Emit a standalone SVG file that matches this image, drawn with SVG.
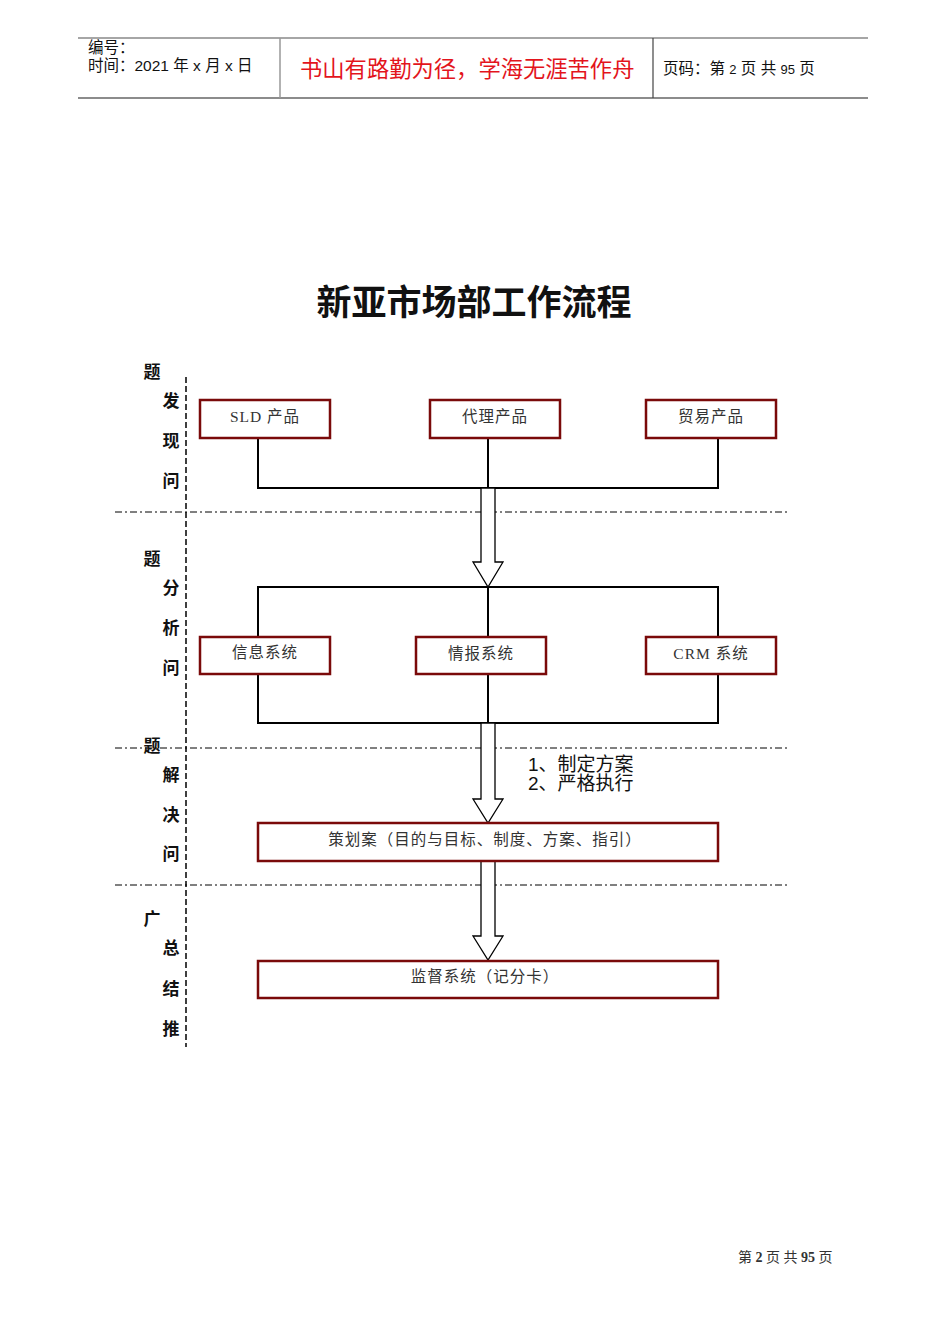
<svg xmlns="http://www.w3.org/2000/svg" width="950" height="1344" viewBox="0 0 950 1344">
<style>
.hdr{font-family:"Liberation Sans","Noto Sans CJK SC",sans-serif;font-size:15.5px;fill:#111}
.red{font-family:"Noto Sans CJK SC",sans-serif;font-size:22.3px;fill:#e3141c}
.title{font-family:"Noto Sans CJK SC",sans-serif;font-size:35px;font-weight:bold;fill:#111;text-anchor:middle}
.lbl{font-family:"Noto Sans CJK SC",sans-serif;font-size:17px;font-weight:bold;fill:#111;text-anchor:middle}
.box{fill:#fff;stroke:#7a0a0a;stroke-width:2.5}
.bt{font-family:"Liberation Serif","Noto Sans CJK SC",serif;font-size:15.5px;letter-spacing:1px;fill:#333;text-anchor:middle}
.conn{fill:none;stroke:#000;stroke-width:2}
.arrow{fill:#fff;stroke:#000;stroke-width:1.3}
.dd{stroke:#000;stroke-width:1;stroke-dasharray:7,3,2,3;fill:none}
.vd{stroke:#000;stroke-width:1.5;stroke-dasharray:6,3;fill:none}
.note{font-family:"Liberation Sans","Noto Sans CJK SC",sans-serif;font-size:19px;fill:#111}
.foot{font-family:"Liberation Serif","Noto Sans CJK SC",serif;font-size:14px;fill:#333}
</style>
<rect width="950" height="1344" fill="#fff"/>
<g id="header">
<line x1="78" y1="38" x2="868" y2="38" stroke="#888" stroke-width="1.5"/>
<line x1="78" y1="98" x2="868" y2="98" stroke="#666" stroke-width="1.5"/>
<line x1="280" y1="38" x2="280" y2="98" stroke="#999" stroke-width="1.5"/>
<line x1="653" y1="38" x2="653" y2="98" stroke="#444" stroke-width="1.2"/>
<text class="hdr" x="88" y="53">编号：</text>
<text class="hdr" x="88" y="71">时间：2021 年 x 月 x 日</text>
<text class="red" x="300" y="77">书山有路勤为径，学海无涯苦作舟</text>
<text class="hdr" x="663" y="74">页码：第 <tspan font-size="13">2</tspan> 页 共 <tspan font-size="13">95</tspan> 页</text>
</g>
<text class="title" x="474" y="315">新亚市场部工作流程</text>
<g id="lanes">
<line class="vd" x1="186" y1="377" x2="186" y2="1047"/>
<line class="dd" x1="115" y1="512" x2="790" y2="512"/>
<line class="dd" x1="115" y1="748" x2="790" y2="748"/>
<line class="dd" x1="115" y1="885" x2="790" y2="885"/>
</g>
<g id="lane-labels">
<text class="lbl" x="152" y="378">题</text>
<text class="lbl" x="171" y="407">发</text>
<text class="lbl" x="171" y="447">现</text>
<text class="lbl" x="171" y="487">问</text>
<text class="lbl" x="152" y="565">题</text>
<text class="lbl" x="171" y="594">分</text>
<text class="lbl" x="171" y="634">析</text>
<text class="lbl" x="171" y="674">问</text>
<text class="lbl" x="152" y="752">题</text>
<text class="lbl" x="171" y="781">解</text>
<text class="lbl" x="171" y="821">决</text>
<text class="lbl" x="171" y="860">问</text>
<text class="lbl" x="152" y="925">广</text>
<text class="lbl" x="171" y="954">总</text>
<text class="lbl" x="171" y="995">结</text>
<text class="lbl" x="171" y="1035">推</text>
</g>
<g id="connectors">
<path class="conn" d="M258 438 V488 H718 V438 M488 438 V488"/>
<path class="conn" d="M258 637 V587 H718 V637 M258 674 V723 H718 V674 M488 587 V723"/>
<path class="arrow" d="M481 488 H495 V562 H503 L488 587 L473 562 H481 Z"/>
<path class="arrow" d="M481 723 H495 V799 H503 L488 823 L473 799 H481 Z"/>
<path class="arrow" d="M481 861 H495 V936 H503 L488 960 L473 936 H481 Z"/>
<text class="note" x="528" y="771">1、制定方案</text>
<text class="note" x="528" y="790">2、严格执行</text>
</g>
<g id="n-sld"><rect class="box" x="200" y="400" width="130" height="38"/><text class="bt" x="265" y="422">SLD 产品</text></g>
<g id="n-agent"><rect class="box" x="430" y="400" width="130" height="38"/><text class="bt" x="495" y="422">代理产品</text></g>
<g id="n-trade"><rect class="box" x="646" y="400" width="130" height="38"/><text class="bt" x="711" y="422">贸易产品</text></g>
<g id="n-info"><rect class="box" x="200" y="637" width="130" height="37"/><text class="bt" x="265" y="658">信息系统</text></g>
<g id="n-intel"><rect class="box" x="416" y="637" width="130" height="37"/><text class="bt" x="481" y="659">情报系统</text></g>
<g id="n-crm"><rect class="box" x="646" y="637" width="130" height="37"/><text class="bt" x="711" y="659">CRM 系统</text></g>
<g id="n-plan"><rect class="box" x="258" y="823" width="460" height="38"/><text class="bt" x="485" y="845">策划案（目的与目标、制度、方案、指引）</text></g>
<g id="n-monitor"><rect class="box" x="258" y="961" width="460" height="37"/><text class="bt" x="485" y="982">监督系统（记分卡）</text></g>
<text class="foot" x="738" y="1262">第 <tspan font-weight="bold">2</tspan> 页 共 <tspan font-weight="bold">95</tspan> 页</text>
</svg>
